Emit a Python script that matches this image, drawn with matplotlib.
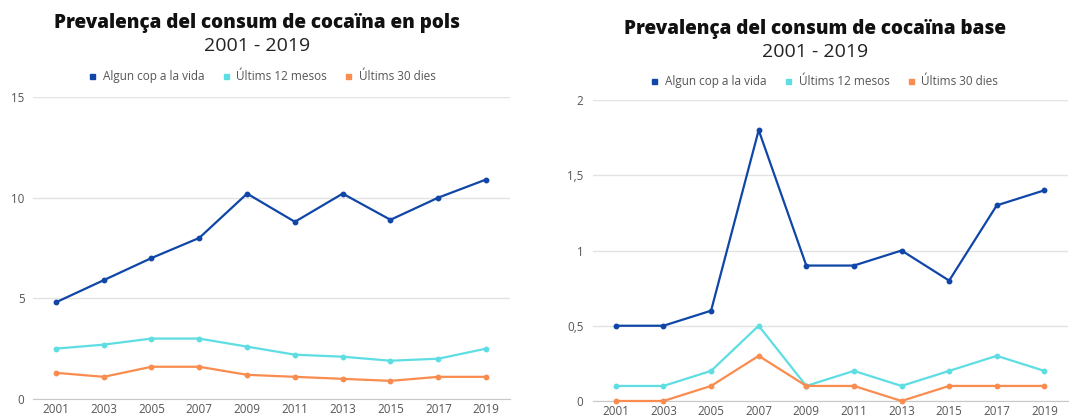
"""Prevalença del consum de cocaïna (pols i base), 2001 - 2019."""

import matplotlib

matplotlib.use("Agg")
import matplotlib.pyplot as plt
from matplotlib.lines import Line2D
from matplotlib.ticker import FuncFormatter

plt.rcParams["font.family"] = ["Open Sans", "DejaVu Sans"]

ANYS = ["2001", "2003", "2005", "2007", "2009", "2011", "2013", "2015", "2017", "2019"]
SERIES = ["Algun cop a la vida", "Últims 12 mesos", "Últims 30 dies"]

# cocaïna en pols (%)
POLS_VIDA = [4.8, 5.9, 7.0, 8.0, 10.2, 8.8, 10.2, 8.9, 10.0, 10.9]
POLS_12M = [2.5, 2.7, 3.0, 3.0, 2.6, 2.2, 2.1, 1.9, 2.0, 2.5]
POLS_30D = [1.3, 1.1, 1.6, 1.6, 1.2, 1.1, 1.0, 0.9, 1.1, 1.1]

# cocaïna base (%)
BASE_VIDA = [0.5, 0.5, 0.6, 1.8, 0.9, 0.9, 1.0, 0.8, 1.3, 1.4]
BASE_12M = [0.1, 0.1, 0.2, 0.5, 0.1, 0.2, 0.1, 0.2, 0.3, 0.2]
BASE_30D = [0.0, 0.0, 0.1, 0.3, 0.1, 0.1, 0.0, 0.1, 0.1, 0.1]

_CORS = ["#0F46A8", "#5EDDE3", "#F98C4E"]
_GRIS_TEXT = "#555555"


def _format_coma(valor, _pos):
    text = f"{valor:g}"
    return text.replace(".", ",")


def _panell(fig, rect, valors, ylim, yticks, titol, x_titol, y_titol, llegenda_xy, pad_y):
    ax = fig.add_axes(rect)
    x = range(len(ANYS))
    for serie, color in zip(valors, _CORS):
        ax.plot(x, serie, color=color, linewidth=1.6, marker="o", markersize=3.2, zorder=3, clip_on=False)

    ax.set_xlim(-0.48, 9.5)
    ax.set_ylim(*ylim)
    ax.set_yticks(yticks)
    ax.yaxis.set_major_formatter(FuncFormatter(_format_coma))
    ax.set_xticks(list(x))
    ax.set_xticklabels(ANYS)
    ax.tick_params(length=0, labelsize=8.4, labelcolor=_GRIS_TEXT)
    ax.tick_params(axis="y", pad=pad_y)
    ax.tick_params(axis="x", pad=3)
    ax.grid(axis="y", color="#E3E3E3", linewidth=1)
    ax.set_axisbelow(True)
    for costat in ["top", "right", "left"]:
        ax.spines[costat].set_visible(False)
    ax.spines["bottom"].set_color("#C8C8C8")

    fig.text(x_titol, y_titol, titol, ha="center", va="center", fontsize=13.6, fontweight=800, color="#111111")
    fig.text(x_titol, y_titol - 0.055, "2001 - 2019", ha="center", va="center", fontsize=14, color="#222222")

    maneres = [Line2D([], [], marker="s", linestyle="", color=c, markersize=3.6) for c in _CORS]
    ax.legend(
        maneres, SERIES, loc="center", bbox_to_anchor=llegenda_xy, bbox_transform=fig.transFigure,
        ncol=3, frameon=False, fontsize=8.5, handlelength=0.8, handletextpad=0.5, columnspacing=1.4,
        labelcolor=_GRIS_TEXT,
    )
    return ax


fig = plt.figure(figsize=(10.7, 4.18), dpi=100)

_panell(fig, [0.0308, 0.0455, 0.4458, 0.7225], [POLS_VIDA, POLS_12M, POLS_30D], (0, 15), [0, 5, 10, 15],
        "Prevalença del consum de cocaïna en pols", 0.240, 0.944, (0.2444, 0.816), 6)
_panell(fig, [0.5542, 0.0407, 0.4441, 0.7200], [BASE_VIDA, BASE_12M, BASE_30D], (0, 2), [0, 0.5, 1, 1.5, 2],
        "Prevalença del consum de cocaïna base", 0.762, 0.930, (0.770, 0.804), 7)

fig.savefig("out.png", dpi=100)
